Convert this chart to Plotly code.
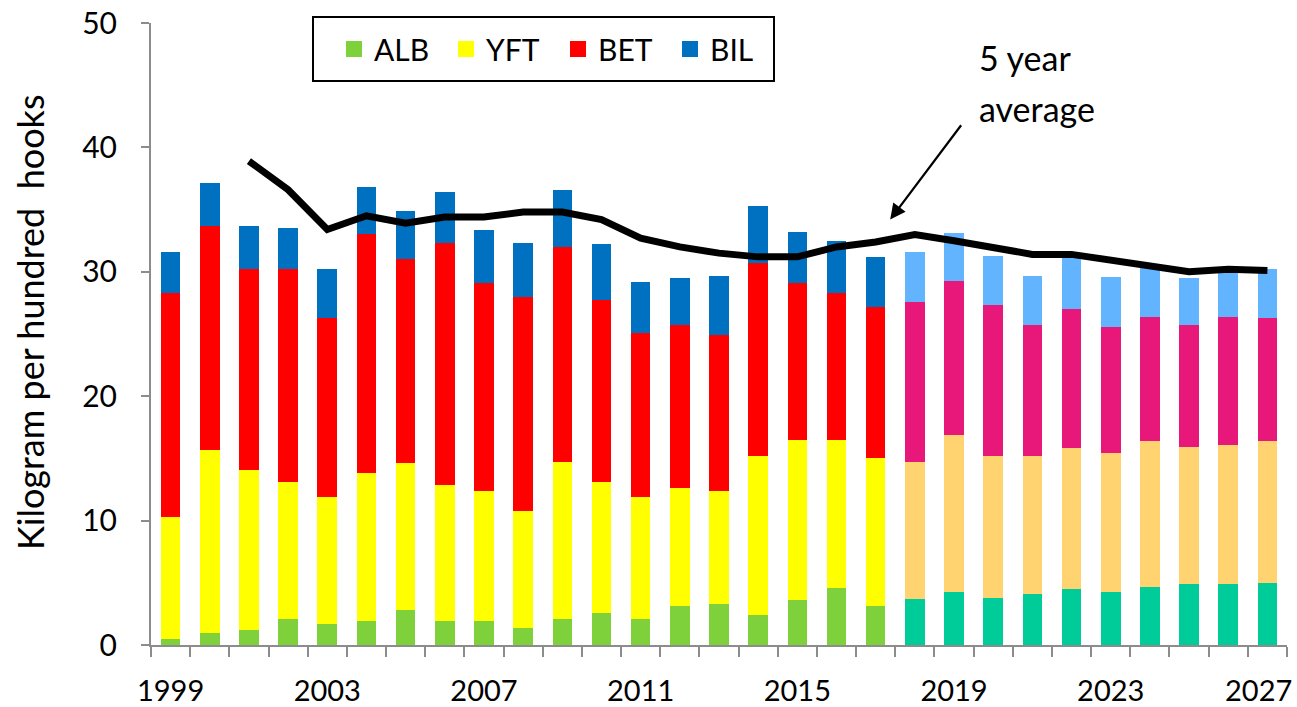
import plotly.graph_objects as go

# ---------------- data ----------------
hist_years = list(range(1999, 2018))
hist_alb = [0.5, 1.0, 1.2, 2.1, 1.7, 1.9, 2.8, 1.9, 1.9, 1.4, 2.1, 2.6, 2.1, 3.1, 3.3, 2.4, 3.6, 4.6, 3.1]
hist_yft = [9.8, 14.7, 12.9, 11.0, 10.2, 11.9, 11.8, 11.0, 10.5, 9.4, 12.6, 10.5, 9.8, 9.5, 9.1, 12.8, 12.9, 11.9, 11.9]
hist_bet = [18.0, 18.0, 16.1, 17.1, 14.4, 19.2, 16.4, 19.4, 16.7, 17.2, 17.3, 14.6, 13.2, 13.1, 12.5, 15.5, 12.6, 11.8, 12.2]
hist_bil = [3.3, 3.4, 3.5, 3.3, 3.9, 3.8, 3.9, 4.1, 4.3, 4.3, 4.6, 4.5, 4.1, 3.8, 4.8, 4.6, 4.1, 4.2, 4.0]

proj_years = list(range(2018, 2028))
proj_alb = [3.7, 4.3, 3.8, 4.1, 4.5, 4.3, 4.7, 4.9, 4.9, 5.0]
proj_yft = [11.0, 12.6, 11.4, 11.1, 11.3, 11.1, 11.7, 11.0, 11.2, 11.4]
proj_bet = [12.9, 12.4, 12.1, 10.5, 11.2, 10.2, 10.0, 9.8, 10.3, 9.9]
proj_bil = [4.0, 3.8, 4.0, 4.0, 4.1, 4.0, 3.9, 3.8, 3.7, 3.9]

avg_years = list(range(2001, 2028))
avg_vals = [38.9, 36.6, 33.4, 34.5, 33.9, 34.4, 34.4, 34.8, 34.8, 34.2, 32.7, 32.0, 31.5,
            31.2, 31.2, 32.0, 32.4, 33.0, 32.5, 32.0, 31.4, 31.4, 30.9, 30.4, 30.0, 30.2, 30.1]

species = ["ALB", "YFT", "BET", "BIL"]
hist_colors = ["#7FD13B", "#FFFF00", "#FF0000", "#0070C0"]
proj_colors = ["#00CC99", "#FFD36F", "#E8177A", "#62B4FF"]

x_tick_vals = [1999, 2003, 2007, 2011, 2015, 2019, 2023, 2027]
x_tick_text = ["1999", "2003", "2007", "2011", "2015", "2019", "2023", "2027"]
y_tick_vals = [0, 10, 20, 30, 40, 50]

FONT = "Lato"
AXIS_GREY = "#8C8C8C"

# body margin is removed in the page (post_script), so the figure starts at the window corner
W, H = 1297, 707
ML, MT = 151, 23
PW, PH = 1136, 622
MR = W - ML - PW
MB = H - MT - PH


def sx_to_paper(sx):
    return (sx - ML) / PW


def sy_to_paper(sy):
    return (MT + PH - sy) / PH


fig = go.Figure()

hist_series = [hist_alb, hist_yft, hist_bet, hist_bil]
proj_series = [proj_alb, proj_yft, proj_bet, proj_bil]

for name, vals, col in zip(species, hist_series, hist_colors):
    fig.add_trace(go.Bar(x=hist_years, y=vals, name=name, marker_color=col,
                         marker_line_width=0, showlegend=False))
for name, vals, col in zip(species, proj_series, proj_colors):
    fig.add_trace(go.Bar(x=proj_years, y=vals, name=name + " projection", marker_color=col,
                         marker_line_width=0, showlegend=False))

fig.add_trace(go.Scatter(x=avg_years, y=avg_vals, mode="lines", name="5 year average",
                         line=dict(color="black", width=7), showlegend=False))

# legend entries (square symbols)
for name, col in zip(species, hist_colors):
    fig.add_trace(go.Scatter(x=[None], y=[None], mode="markers", name=name,
                             marker=dict(symbol="square", size=18, color=col)))

# last tick label is pulled inside the window (as in the reference), drawn separately
shown_tick_text = x_tick_text[:-1] + [""]

fig.update_layout(
    width=W, height=H,
    margin=dict(l=ML, r=MR, t=MT, b=MB, autoexpand=False),
    paper_bgcolor="white", plot_bgcolor="white",
    barmode="stack", bargap=0.5,
    font=dict(family=FONT, size=30, color="black"),
    legend=dict(orientation="h", traceorder="normal",
                xref="container", yref="container",
                x=334 / W, xanchor="left", y=1 - 23 / H, yanchor="top",
                bgcolor="rgba(0,0,0,0)", borderwidth=0,
                font=dict(family=FONT, size=30, color="black"),
                entrywidth=67, entrywidthmode="pixels", itemclick=False),
    xaxis=dict(range=[1998.5, 2027.5], tickmode="array", tickvals=x_tick_vals,
               ticktext=shown_tick_text,
               ticks="", showgrid=False, zeroline=False,
               showline=True, linecolor=AXIS_GREY, linewidth=2,
               tickfont=dict(family=FONT, size=29, color="black"),
               ticklabelstandoff=19, ticklabeloverflow="allow",
               minor=dict(ticks="outside", tick0=1998.5, dtick=1, ticklen=10,
                          tickwidth=2, tickcolor=AXIS_GREY, showgrid=False)),
    yaxis=dict(range=[0, 50], tickmode="array", tickvals=y_tick_vals,
               ticks="outside", ticklen=8, tickwidth=2, tickcolor=AXIS_GREY,
               showgrid=False, zeroline=False,
               showline=True, linecolor=AXIS_GREY, linewidth=2,
               tickfont=dict(family=FONT, size=30, color="black"),
               ticklabelstandoff=18, ticklabeloverflow="allow"),
)

# last x tick label
fig.add_annotation(x=sx_to_paper(1294), y=sy_to_paper(689), xref="paper", yref="paper",
                   xanchor="right", yanchor="middle", showarrow=False,
                   text=x_tick_text[-1], font=dict(family=FONT, size=29, color="black"))

# y-axis title
fig.add_annotation(x=sx_to_paper(30), y=sy_to_paper(323), xref="paper", yref="paper",
                   xanchor="center", yanchor="middle", textangle=-90, showarrow=False,
                   text="Kilogram per hundred  hooks",
                   font=dict(family=FONT, size=36, color="black"))

# legend box
fig.add_shape(type="rect", xref="paper", yref="paper",
              x0=sx_to_paper(313), x1=sx_to_paper(774),
              y0=sy_to_paper(81), y1=sy_to_paper(17),
              line=dict(color="black", width=2), fillcolor="rgba(0,0,0,0)")

# arrow
fig.add_annotation(x=2017.37, y=34.2, xref="x", yref="y",
                   ax=2019.21, ay=41.9, axref="x", ayref="y",
                   text="", showarrow=True, arrowhead=2, arrowsize=1.4,
                   arrowwidth=2.2, arrowcolor="black")
# label
fig.add_annotation(x=2019.58, y=47.2, xref="x", yref="y", xanchor="left", yanchor="middle",
                   align="left", showarrow=False, text="5 year",
                   font=dict(family=FONT, size=34, color="black"))
fig.add_annotation(x=2019.58, y=43.1, xref="x", yref="y", xanchor="left", yanchor="middle",
                   align="left", showarrow=False, text="average",
                   font=dict(family=FONT, size=34, color="black"))

fig.write_html("out.html", config={"displayModeBar": False},
               post_script="document.body.style.margin='0';document.body.style.overflow='hidden';")
